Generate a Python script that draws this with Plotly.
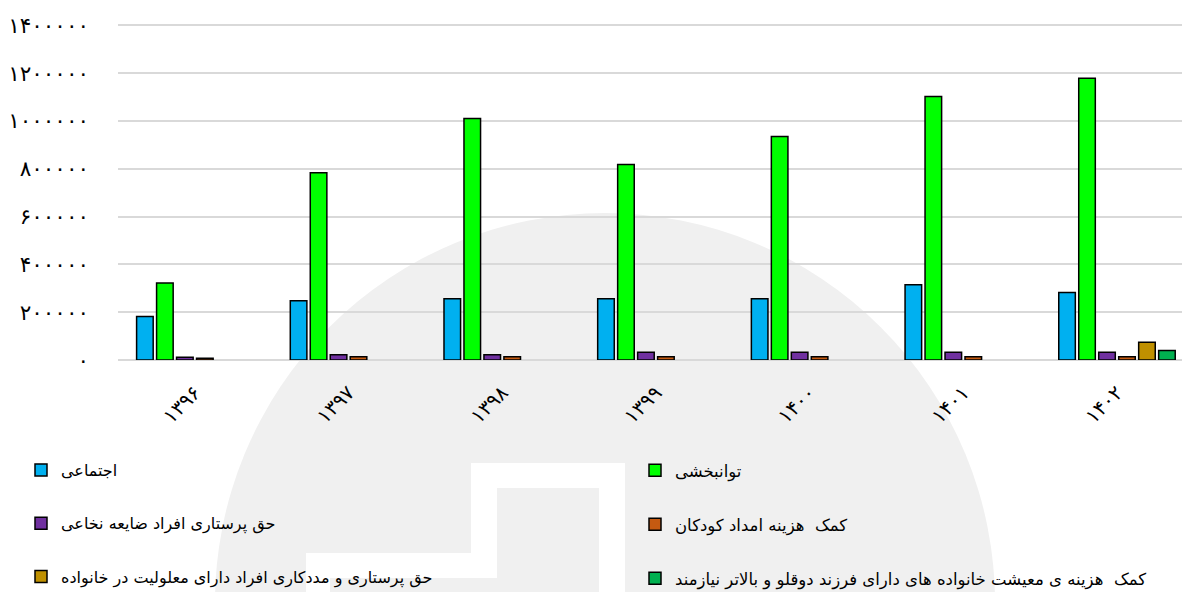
import plotly.graph_objects as go

# Years (Persian calendar) and values per programme
years = ["۱۳۹۶", "۱۳۹۷", "۱۳۹۸", "۱۳۹۹", "۱۴۰۰", "۱۴۰۱", "۱۴۰۲"]

ejtemaei = [182000, 248000, 256000, 256000, 256000, 315000, 282000]
tavanbakhshi = [322000, 783000, 1010000, 818000, 935000, 1102000, 1178000]
zaye_nokhaei = [11000, 22000, 22000, 32000, 32000, 32000, 32000]
emdad_kudakan = [7000, 14000, 14000, 14000, 14000, 14000, 14000]
maloliat = [None, None, None, None, None, None, 74000]
doghlu = [None, None, None, None, None, None, 40000]

names = [
    "اجتماعی",
    "توانبخشی",
    "حق پرستاری افراد ضایعه نخاعی",
    "کمک  هزینه امداد کودکان",
    "حق پرستاری و مددکاری افراد دارای معلولیت در خانواده",
    "کمک  هزینه ی معیشت خانواده های دارای فرزند دوقلو و بالاتر نیازمند",
]
series = [ejtemaei, tavanbakhshi, zaye_nokhaei, emdad_kudakan, maloliat, doghlu]
colors = ["#00B0F0", "#00FF00", "#7030A0", "#C55A11", "#BF9000", "#00B050"]
legend_ref = ["legend", "legend2", "legend", "legend2", "legend", "legend2"]

y_tickvals = [0, 200000, 400000, 600000, 800000, 1000000, 1200000, 1400000]
y_ticktext = ["۰", "۲۰۰۰۰۰", "۴۰۰۰۰۰", "۶۰۰۰۰۰", "۸۰۰۰۰۰", "۱۰۰۰۰۰۰", "۱۲۰۰۰۰۰", "۱۴۰۰۰۰۰"]

W, H = 1182, 592
PLOT_L, PLOT_R, PLOT_T, PLOT_B = 118, 1182, 15, 360
Y_TOP = 1400000 * (PLOT_B - PLOT_T) / (PLOT_B - 25.3)
FONT = "DejaVu Sans, sans-serif"


def px(x):
    return (x - PLOT_L) / (PLOT_R - PLOT_L)


def py(y):
    return (PLOT_B - y) / (PLOT_B - PLOT_T)


fig = go.Figure()
for name, vals, col, lg in zip(names, series, colors, legend_ref):
    fig.add_trace(go.Bar(
        x=years, y=vals, name=name,
        marker=dict(color=col, line=dict(color="#000000", width=1.5)),
        legend=lg, legendgroup=name,
    ))

# faint logo watermark behind the chart
shapes = [
    dict(type="circle", xref="paper", yref="paper",
         x0=px(215), x1=px(995), y0=py(993), y1=py(213),
         fillcolor="#f0f0f0", line=dict(width=0), layer="below"),
]


def poly(points, color):
    d = "M" + " L".join(f"{px(a):.5f},{py(b):.5f}" for a, b in points) + " Z"
    return dict(type="path", xref="paper", yref="paper", path=d,
                fillcolor=color, line=dict(width=0), layer="below")


shapes.append(poly([(306, 600), (306, 553), (471, 553), (471, 463),
                    (625, 463), (625, 600)], "#ffffff"))
shapes.append(poly([(330, 600), (330, 578), (497, 578), (497, 488),
                    (599, 488), (599, 600)], "#f0f0f0"))

fig.update_layout(
    width=W, height=H,
    margin=dict(l=PLOT_L, r=W - PLOT_R, t=PLOT_T, b=H - PLOT_B,
                autoexpand=False),
    paper_bgcolor="#ffffff", plot_bgcolor="rgba(0,0,0,0)",
    font=dict(family=FONT, size=16, color="#000000"),
    barmode="group", bargap=0.22, bargroupgap=0.17,
    shapes=shapes,
    xaxis=dict(range=[-0.5, 6.423], tickangle=-45, showgrid=False,
               ticks="", ticklabelstandoff=16, automargin=False,
               tickfont=dict(family=FONT, size=20)),
    yaxis=dict(range=[0, Y_TOP], tickvals=y_tickvals, ticktext=y_ticktext,
               showgrid=True, gridcolor="#d9d9d9", gridwidth=1.5,
               zeroline=True, zerolinecolor="#d9d9d9", zerolinewidth=1.5,
               ticks="", ticklabelstandoff=28, automargin=False,
               tickfont=dict(family=FONT, size=21.5)),
    legend=dict(x=px(21), y=py(453), xanchor="left", yanchor="top",
                orientation="v", tracegroupgap=29.5, bgcolor="rgba(0,0,0,0)",
                font=dict(family=FONT, size=16)),
    legend2=dict(x=px(635), y=py(453), xanchor="left", yanchor="top",
                 orientation="v", tracegroupgap=29.5, bgcolor="rgba(0,0,0,0)",
                 font=dict(family=FONT, size=16.5)),
)

fig.write_html("out.html")
